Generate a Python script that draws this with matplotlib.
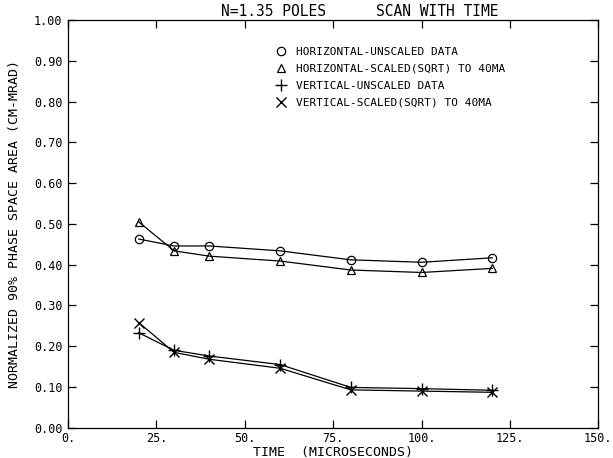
import matplotlib.pyplot as plt
from matplotlib.lines import Line2D

# data
time_us = [20, 30, 40, 60, 80, 100, 120]
horiz_unscaled = [0.463, 0.446, 0.446, 0.434, 0.412, 0.406, 0.417]
horiz_scaled = [0.505, 0.434, 0.421, 0.409, 0.387, 0.381, 0.391]
vert_unscaled = [0.233, 0.190, 0.176, 0.155, 0.099, 0.096, 0.092]
vert_scaled = [0.258, 0.185, 0.168, 0.146, 0.093, 0.090, 0.087]

x_ticks = [0, 25, 50, 75, 100, 125, 150]
x_tick_labels = ['0.', '25.', '50.', '75.', '100.', '125.', '150.']
y_ticks = [0.0, 0.1, 0.2, 0.3, 0.4, 0.5, 0.6, 0.7, 0.8, 0.9, 1.0]
y_tick_labels = ['0.00', '0.10', '0.20', '0.30', '0.40', '0.50',
                 '0.60', '0.70', '0.80', '0.90', '1.00']

labels = ['HORIZONTAL-UNSCALED DATA',
          'HORIZONTAL-SCALED(SQRT) TO 40MA',
          'VERTICAL-UNSCALED DATA',
          'VERTICAL-SCALED(SQRT) TO 40MA']

plt.rcParams['font.family'] = ['DejaVu Sans Mono']

fig = plt.figure(figsize=(6.13, 4.58), dpi=100)
ax = fig.add_axes([0.111, 0.066, 0.865, 0.89])

lw = 0.9
ax.plot(time_us, horiz_unscaled, color='black', lw=lw, marker='o', ms=6,
        mfc='none', mew=0.9)
ax.plot(time_us, horiz_scaled, color='black', lw=lw, marker='^', ms=6,
        mfc='none', mew=0.9)
ax.plot(time_us, vert_unscaled, color='black', lw=lw, marker='+', ms=8,
        mew=1.0)
ax.plot(time_us, vert_scaled, color='black', lw=lw, marker='x', ms=7,
        mew=1.0)

ax.set_xlim(0, 150)
ax.set_ylim(0, 1.0)
ax.set_xticks(x_ticks)
ax.set_xticklabels(x_tick_labels)
ax.set_yticks(y_ticks)
ax.set_yticklabels(y_tick_labels)
ax.tick_params(direction='in', top=True, right=True, length=6, width=0.9,
               labelsize=8.5, colors='black')
ax.tick_params(axis='x', pad=3)
ax.tick_params(axis='y', pad=4)
for s in ax.spines.values():
    s.set_linewidth(0.9)

ax.set_xlabel('TIME  (MICROSECONDS)', fontsize=9.5, labelpad=1)
ax.set_ylabel('NORMALIZED 90% PHASE SPACE AREA (CM-MRAD)', fontsize=9.5,
              labelpad=9)

ax.text(0.289, 1.004, 'N=1.35 POLES', transform=ax.transAxes,
        ha='left', va='bottom', fontsize=10.5)
ax.text(0.812, 1.004, 'SCAN WITH TIME', transform=ax.transAxes,
        ha='right', va='bottom', fontsize=10.5)

handles = [
    Line2D([], [], ls='none', marker='o', ms=6, mfc='none', mec='black', mew=0.9),
    Line2D([], [], ls='none', marker='^', ms=6, mfc='none', mec='black', mew=0.9),
    Line2D([], [], ls='none', marker='+', ms=8, mec='black', mew=1.0),
    Line2D([], [], ls='none', marker='x', ms=7, mec='black', mew=1.0),
]
ax.legend(handles, labels, loc='upper left', bbox_to_anchor=(0.385, 0.945),
          frameon=False, fontsize=8, handlelength=0.8, handletextpad=0.9,
          labelspacing=0.62, borderaxespad=0)

fig.savefig('out.png', dpi=100)
